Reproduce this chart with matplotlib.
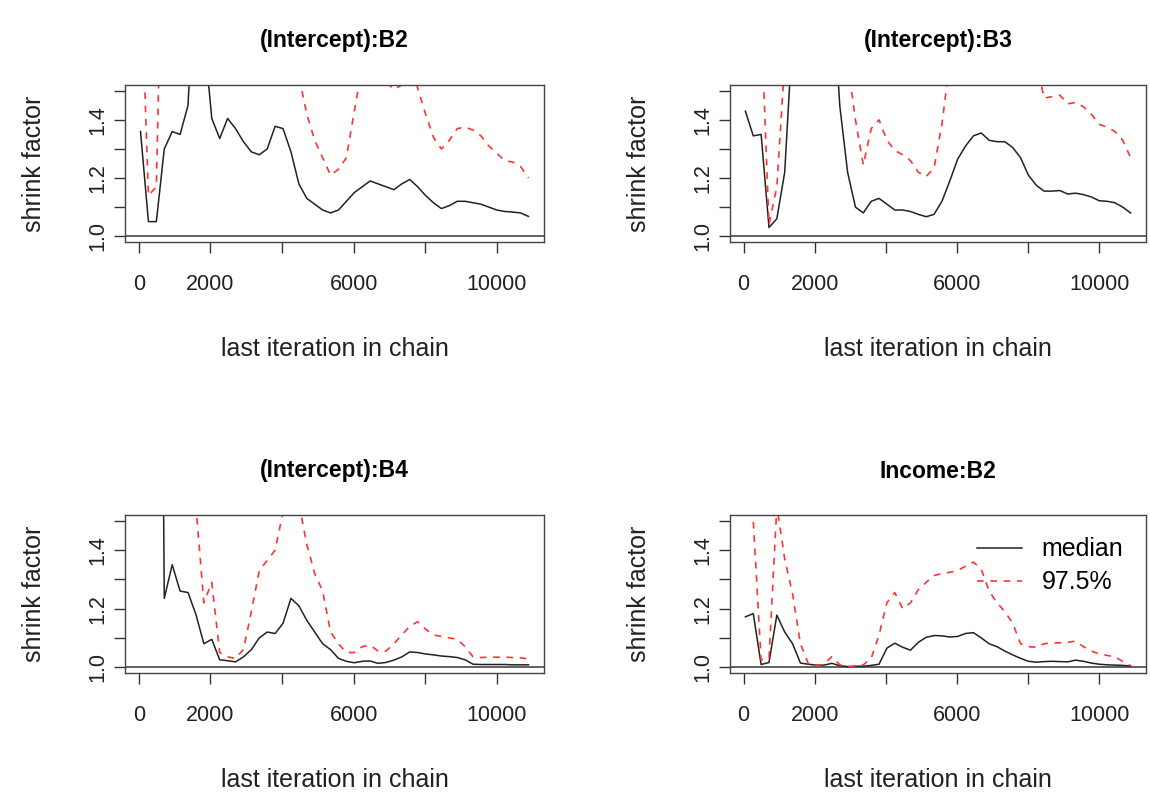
import numpy as np
import matplotlib.pyplot as plt
import matplotlib as mpl
mpl.rcParams.update({'font.family': ['Liberation Sans', 'DejaVu Sans']})

# last iteration in chain (bins of gelman.plot)
iters = [50, 271, 492, 713, 934, 1155, 1376, 1597, 1818, 2039,
         2260, 2481, 2702, 2923, 3144, 3365, 3586, 3807, 4028, 4249,
         4470, 4691, 4912, 5133, 5354, 5575, 5796, 6017, 6238, 6459,
         6680, 6901, 7122, 7343, 7564, 7785, 8006, 8227, 8448, 8669,
         8890, 9111, 9332, 9553, 9774, 9995, 10216, 10437, 10658, 10879]

titles = ['(Intercept):B2', '(Intercept):B3', '(Intercept):B4', 'Income:B2']

med_b2 = [1.36, 1.05, 1.05, 1.30, 1.36, 1.35, 1.45, 2.0, 1.7, 1.405,
          1.336, 1.405, 1.37, 1.325, 1.29, 1.28, 1.30, 1.378, 1.37, 1.29,
          1.18, 1.13, 1.11, 1.09, 1.08, 1.09, 1.12, 1.15, 1.17, 1.19,
          1.18, 1.17, 1.16, 1.18, 1.195, 1.17, 1.14, 1.115, 1.095, 1.105,
          1.12, 1.12, 1.115, 1.11, 1.10, 1.09, 1.085, 1.083, 1.08, 1.068]
q975_b2 = [1.95, 1.14, 1.17, 2.4, 2.8, 3.0, 3.0, 3.2, 3.2, 3.0,
           2.8, 2.6, 2.5, 2.4, 2.3, 2.2, 2.1, 2.0, 1.9, 1.7,
           1.55, 1.42, 1.33, 1.27, 1.21, 1.23, 1.27, 1.43, 1.58, 1.7,
           1.62, 1.53, 1.505, 1.52, 1.6, 1.51, 1.42, 1.34, 1.30, 1.33,
           1.37, 1.375, 1.365, 1.345, 1.31, 1.285, 1.26, 1.255, 1.24, 1.20]

med_b3 = [1.43, 1.345, 1.35, 1.03, 1.06, 1.22, 1.7, 2.2, 2.5, 2.5,
          2.3, 1.9, 1.45, 1.22, 1.10, 1.08, 1.12, 1.13, 1.11, 1.09,
          1.09, 1.085, 1.075, 1.067, 1.075, 1.12, 1.19, 1.265, 1.31, 1.345,
          1.355, 1.33, 1.325, 1.325, 1.305, 1.27, 1.21, 1.175, 1.155, 1.155,
          1.157, 1.145, 1.148, 1.143, 1.135, 1.122, 1.12, 1.115, 1.10, 1.08]
q975_b3 = [2.0, 2.2, 1.75, 1.04, 1.17, 1.6, 2.0, 2.3, 2.5, 2.5,
           2.4, 2.2, 2.0, 1.6, 1.40, 1.245, 1.37, 1.40, 1.33, 1.295,
           1.28, 1.26, 1.22, 1.205, 1.235, 1.385, 1.6, 1.9, 2.1, 2.2,
           2.2, 2.1, 2.0, 1.9, 1.8, 1.7, 1.65, 1.6, 1.475, 1.48,
           1.485, 1.455, 1.46, 1.445, 1.42, 1.385, 1.375, 1.36, 1.33, 1.27]

med_b4 = [5.0, 5.0, 5.0, 1.235, 1.35, 1.26, 1.255, 1.18, 1.08, 1.095,
          1.025, 1.022, 1.018, 1.035, 1.06, 1.10, 1.12, 1.115, 1.15, 1.235,
          1.21, 1.16, 1.12, 1.08, 1.06, 1.03, 1.02, 1.015, 1.02, 1.021,
          1.013, 1.016, 1.024, 1.035, 1.052, 1.05, 1.045, 1.042, 1.038, 1.036,
          1.033, 1.025, 1.01, 1.009, 1.009, 1.009, 1.009, 1.008, 1.008, 1.008]
q975_b4 = [5.0, 5.0, 5.0, 4.0, 3.0, 2.8, 2.5, 1.55, 1.22, 1.29,
           1.05, 1.035, 1.03, 1.06, 1.19, 1.33, 1.365, 1.40, 1.53, 1.62,
           1.56, 1.42, 1.32, 1.26, 1.12, 1.08, 1.05, 1.05, 1.07, 1.075,
           1.055, 1.055, 1.08, 1.11, 1.14, 1.155, 1.13, 1.11, 1.105, 1.10,
           1.095, 1.07, 1.035, 1.033, 1.034, 1.034, 1.034, 1.033, 1.032, 1.028]

med_inc = [1.172, 1.183, 1.009, 1.016, 1.178, 1.12, 1.08, 1.014, 1.01, 1.007,
           1.007, 1.013, 1.005, 1.002, 1.003, 1.003, 1.006, 1.01, 1.065, 1.082,
           1.068, 1.058, 1.085, 1.102, 1.108, 1.107, 1.103, 1.105, 1.115, 1.118,
           1.10, 1.08, 1.07, 1.055, 1.042, 1.03, 1.02, 1.017, 1.019, 1.02,
           1.019, 1.018, 1.024, 1.02, 1.014, 1.01, 1.008, 1.007, 1.006, 1.004]
q975_inc = [3.0, 1.5, 1.025, 1.03, 1.55, 1.37, 1.25, 1.08, 1.012, 1.006,
            1.01, 1.036, 1.008, 1.001, 1.004, 1.008, 1.03, 1.11, 1.22, 1.255,
            1.20, 1.22, 1.265, 1.29, 1.313, 1.32, 1.324, 1.33, 1.345, 1.359,
            1.335, 1.26, 1.22, 1.19, 1.15, 1.08, 1.07, 1.068, 1.08, 1.083,
            1.083, 1.085, 1.089, 1.07, 1.055, 1.045, 1.04, 1.035, 1.02, 1.005]

medians = [med_b2, med_b3, med_b4, med_inc]
uppers = [q975_b2, q975_b3, q975_b4, q975_inc]

W, H = 1150, 794
fig = plt.figure(figsize=(W/100, H/100), dpi=100)
# axes boxes in pixels: left, top, right, bottom
boxes = [(125, 85, 544, 242), (730, 85, 1146, 242),
         (125, 515, 544, 673), (730, 515, 1146, 673)]

xticks = [0, 2000, 4000, 6000, 8000, 10000]
xlabels = ['0', '2000', '', '6000', '', '10000']
yticks = [1.0, 1.1, 1.2, 1.3, 1.4, 1.5]
ylabels = ['1.0', '', '1.2', '', '1.4', '']

for k in range(4):
    l, t, r, b = boxes[k]
    ax = fig.add_axes([l/W, 1 - b/H, (r - l)/W, (b - t)/H])
    ax.axhline(1.0, color='#555555', lw=1.3)
    ax.plot(iters, medians[k], color='#222222', lw=1.1, label='median')
    ax.plot(iters, uppers[k], color='#ff3333', lw=1.2, ls=(0, (4, 4)), label='97.5%')
    ax.set_xlim(-383, 11312)
    ax.set_ylim(0.98, 1.52)
    ax.set_xticks(xticks)
    ax.set_xticklabels(xlabels)
    ax.set_yticks(yticks)
    ax.set_yticklabels(ylabels, rotation=90, va='center')
    ax.tick_params(direction='out', length=8, width=1, labelsize=15.5,
                   color='#333333', labelcolor='#222222')
    ax.tick_params(axis='x', pad=15)
    ax.tick_params(axis='y', pad=4)
    for s in ax.spines.values():
        s.set_color('#444444')
        s.set_linewidth(1)
    ax.set_title(titles[k], fontsize=16.5, fontweight='bold', pad=27)
    ax.set_xlabel('last iteration in chain', fontsize=18, labelpad=30, color='#222222')
    ax.set_ylabel('shrink factor', fontsize=18, labelpad=30, color='#222222')
    if k == 3:
        ax.legend(loc='upper right', frameon=False, fontsize=18, handlelength=1.8,
                  handletextpad=0.8, labelspacing=0.35, borderaxespad=0.5,
                  bbox_to_anchor=(1.0, 1.0))

fig.savefig('out.png', dpi=100)
